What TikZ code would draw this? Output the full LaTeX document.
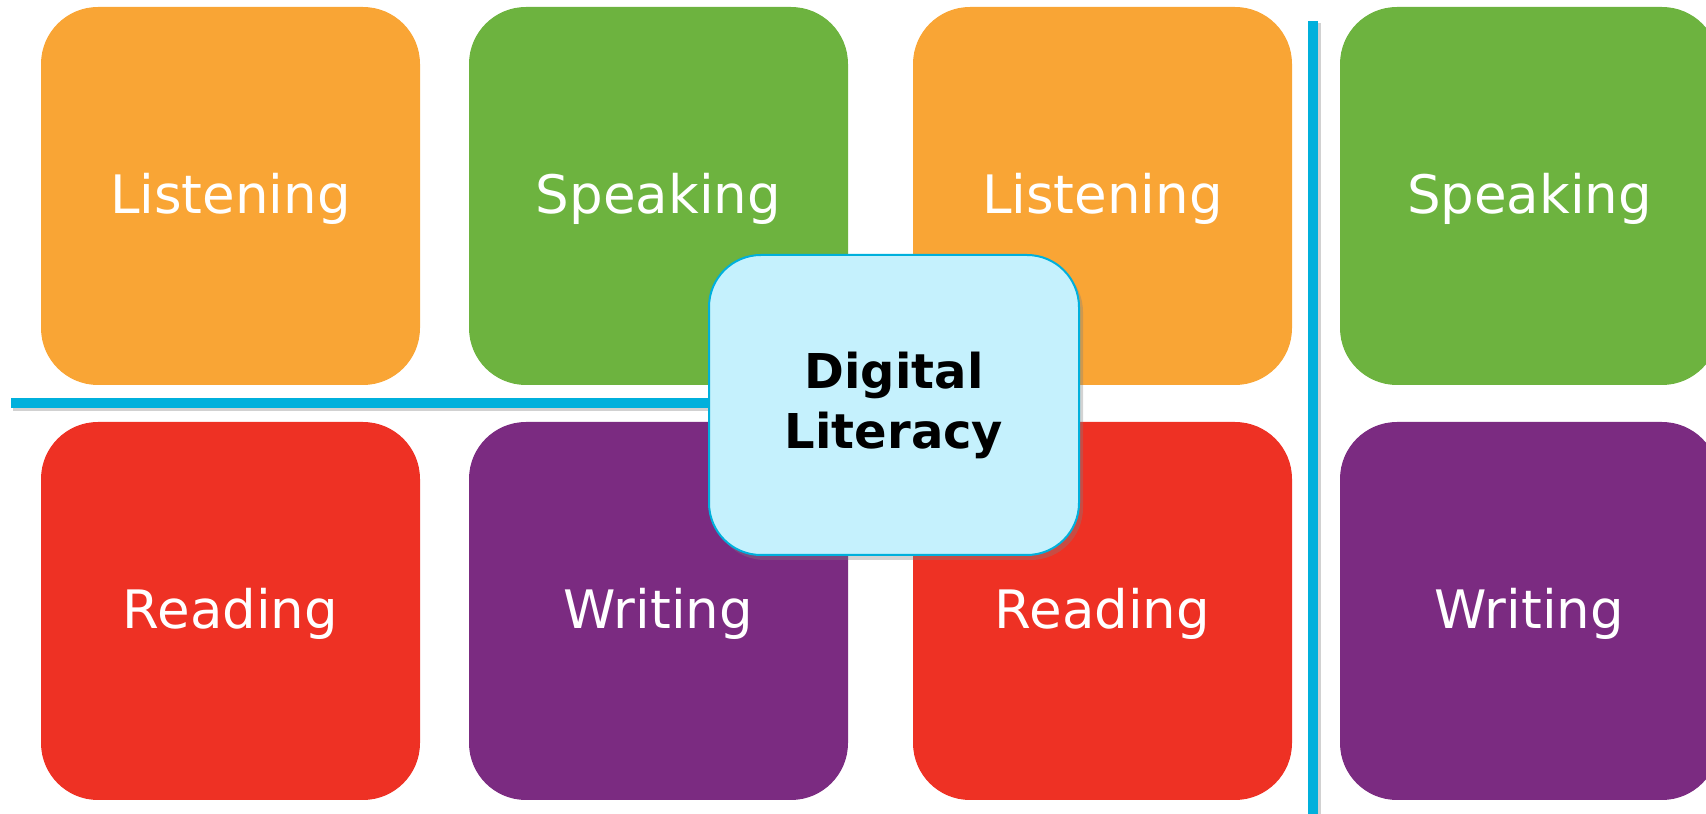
\documentclass[tikz,border=0pt]{standalone}
\usepackage{tikz}
\usepackage{xcolor}
\usepackage{fontspec}
\setmainfont{DejaVu Sans}
\usetikzlibrary{shadows}
\usetikzlibrary{calc}
\definecolor{lorange}{HTML}{F9A535}
\definecolor{sgreen}{HTML}{6DB33F}
\definecolor{rred}{HTML}{EE3124}
\definecolor{wpurple}{HTML}{7B2B81}
\definecolor{dlblue}{HTML}{00B0DC}
\definecolor{dlfill}{HTML}{C5F1FD}
\tikzstyle{skill} = [rectangle, rounded corners=57pt, white, inner sep=0pt,
                     minimum width=379pt, minimum height=378pt, align=center,
                     text depth=6pt, font=\fontsize{53}{60}\selectfont]
\tikzstyle{listen} = [skill, fill=lorange]
\tikzstyle{speak} = [skill, fill=sgreen]
\tikzstyle{read} = [skill, fill=rred]
\tikzstyle{write} = [skill, fill=wpurple]
\tikzstyle{digital} = [rectangle, rounded corners=52pt, black, line width=2pt,
                       draw=dlblue, fill=dlfill, minimum width=370pt, minimum height=300pt,
                       align=center, font=\bfseries\fontsize{48}{60}\selectfont,
                       drop shadow={shadow xshift=4pt, shadow yshift=-5pt, opacity=0.35}]
\tikzstyle{divider} = [line width=10pt, dlblue]
\tikzstyle{dividershade} = [line width=10pt, black, opacity=0.18]

\begin{document}
\begin{tikzpicture}[x=1pt,y=1pt]
    \useasboundingbox (0,0) rectangle (1706,814);
    \clip (0,0) rectangle (1706,814);
    % top row
    \node[listen] (listenA) at (230.5,618) {Listening};
    \node[speak] (speakA) [right of=listenA,node distance=428pt] {Speaking};
    \node[listen] (listenB) [right of=speakA,node distance=444pt] {Listening};
    \node[speak] (speakB) [right of=listenB,node distance=427pt] {Speaking};
    % bottom row
    \node[read] (readA) [below of=listenA,node distance=415pt] {Reading};
    \node[write] (writeA) [right of=readA,node distance=428pt] {Writing};
    \node[read] (readB) [right of=writeA,node distance=444pt] {Reading};
    \node[write] (writeB) [right of=readB,node distance=427pt] {Writing};
    % dividers
    \coordinate (hleft) at (11,411);
    \coordinate (hright) at (800,411);
    \coordinate (vtop) at (1313,793);
    \coordinate (vbot) at (1313,-10);
    \draw[dividershade] ($(hleft)+(2,-3)$) -- ($(hright)+(2,-3)$);
    \draw[dividershade] ($(vtop)+(3,-2)$) -- ($(vbot)+(3,-2)$);
    \draw[divider] (hleft) -- (hright);
    \draw[divider] (vtop) -- (vbot);
    % centre
    \node[digital] (digital) at (894,409) {Digital\\Literacy};
\end{tikzpicture}
\end{document}
